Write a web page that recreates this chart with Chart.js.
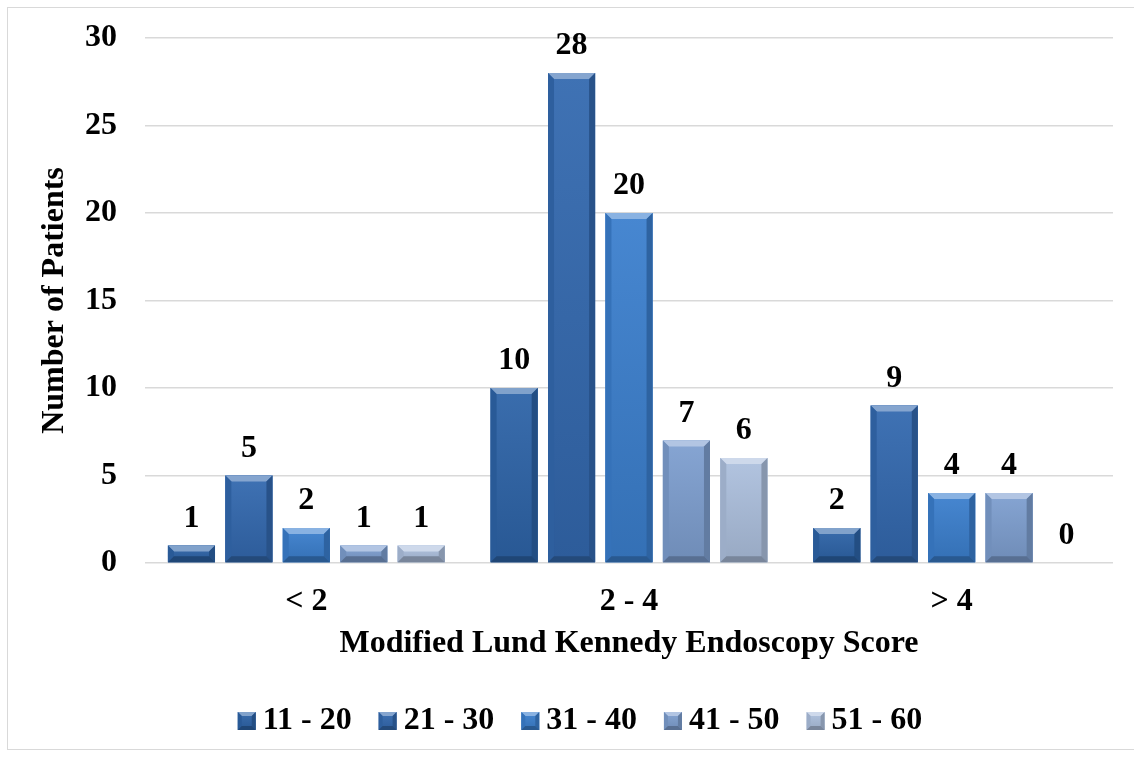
<!DOCTYPE html>
<html>
<head>
<meta charset="utf-8">
<script src="https://cdn.jsdelivr.net/npm/chart.js@4"></script>
<style>
  html, body { margin: 0; padding: 0; background: #fff; }
  #wrap { position: relative; width: 1134px; height: 758px; overflow: hidden; }
  #frame { position: absolute; left: 7px; top: 7px; width: 1200px; height: 743px; border: 1px solid #d9d9d9; box-sizing: border-box; }
  canvas { position: absolute; left: 0; top: 0; }
</style>
</head>
<body>
<div id="wrap">
  <div id="frame"></div>
  <canvas id="c" width="1134" height="758"></canvas>
</div>
<script>
const categories = ['< 2', '2 - 4', '> 4'];
const ageGroups = ['11 - 20', '21 - 30', '31 - 40', '41 - 50', '51 - 60'];
const age11to20 = [1, 10, 2];
const age21to30 = [5, 28, 9];
const age31to40 = [2, 20, 4];
const age41to50 = [1, 7, 4];
const age51to60 = [1, 6, 0];
const yTicks = [0, 5, 10, 15, 20, 25, 30];

const seriesValues = [age11to20, age21to30, age31to40, age41to50, age51to60];
const seriesColors = ['#2D64A8', '#3369AF', '#3B7FCE', '#7E9FD0', '#ADC0DE'];

const FONT = '"Liberation Serif", "Times New Roman", serif';
const SIZE = 32;

function shade(hex, amt) {
  const n = parseInt(hex.slice(1), 16);
  let r = (n >> 16) & 255, g = (n >> 8) & 255, b = n & 255;
  const f = v => Math.max(0, Math.min(255, Math.round(amt >= 0 ? v + (255 - v) * amt : v * (1 + amt))));
  return `rgb(${f(r)},${f(g)},${f(b)})`;
}

// Draws a bevelled block: lit top face, shaded sides and bottom
function bevelBlock(ctx, l, t, w, h, base, bevel) {
  const r = l + w, bt = t + h;
  const bv = Math.min(bevel, h / 2, w / 2);
  const g = ctx.createLinearGradient(0, t, 0, bt);
  g.addColorStop(0, shade(base, 0.06));
  g.addColorStop(1, shade(base, -0.12));
  ctx.fillStyle = g;
  ctx.fillRect(l, t, w, h);
  ctx.beginPath();
  ctx.moveTo(l, t); ctx.lineTo(r, t); ctx.lineTo(r - bv, t + bv); ctx.lineTo(l + bv, t + bv); ctx.closePath();
  ctx.fillStyle = shade(base, 0.4);
  ctx.fill();
  ctx.beginPath();
  ctx.moveTo(l, t); ctx.lineTo(l + bv, t + bv); ctx.lineTo(l + bv, bt - bv); ctx.lineTo(l, bt); ctx.closePath();
  ctx.fillStyle = shade(base, -0.1);
  ctx.fill();
  ctx.beginPath();
  ctx.moveTo(r, t); ctx.lineTo(r - bv, t + bv); ctx.lineTo(r - bv, bt - bv); ctx.lineTo(r, bt); ctx.closePath();
  ctx.fillStyle = shade(base, -0.22);
  ctx.fill();
  ctx.beginPath();
  ctx.moveTo(l, bt); ctx.lineTo(l + bv, bt - bv); ctx.lineTo(r - bv, bt - bv); ctx.lineTo(r, bt); ctx.closePath();
  ctx.fillStyle = shade(base, -0.3);
  ctx.fill();
}

// Bevelled look on every bar, drawn over the library's own bar rectangles
const bevelPlugin = {
  id: 'bevel',
  afterDatasetsDraw(chart) {
    const ctx = chart.ctx;
    chart.data.datasets.forEach((ds, di) => {
      const meta = chart.getDatasetMeta(di);
      meta.data.forEach((bar, i) => {
        if (!ds.data[i]) return;
        const { x, y, width, base } = bar.getProps(['x', 'y', 'width', 'base'], true);
        ctx.save();
        bevelBlock(ctx, x - width / 2, y, width, base - y, seriesColors[di], 6);
        ctx.restore();
      });
    });
  }
};

// Value labels above each bar
const valueLabels = {
  id: 'valueLabels',
  afterDatasetsDraw(chart) {
    const ctx = chart.ctx;
    ctx.save();
    ctx.font = 'bold ' + SIZE + 'px ' + FONT;
    ctx.fillStyle = '#000';
    ctx.textAlign = 'center';
    ctx.textBaseline = 'alphabetic';
    chart.data.datasets.forEach((ds, di) => {
      const meta = chart.getDatasetMeta(di);
      meta.data.forEach((bar, i) => {
        ctx.fillText(String(ds.data[i]), bar.x, bar.y - 19);
      });
    });
    ctx.restore();
  }
};

// Legend row: nudge it right and paint bevelled swatches next to the text
const legendDecor = {
  id: 'legendDecor',
  afterLayout(chart) {
    if (chart.legend) { chart.legend.left += 15; chart.legend.right += 15; }
  },
  afterDraw(chart) {
    const lg = chart.legend;
    if (!lg || !lg.legendHitBoxes) return;
    const ctx = chart.ctx;
    ctx.save();
    lg.legendHitBoxes.forEach((hb, i) => {
      const textX = hb.left + 18 + SIZE / 2;
      const cy = hb.top + hb.height / 2;
      bevelBlock(ctx, textX - 25, cy - 9, 18, 18, seriesColors[i], 4);
    });
    ctx.restore();
  }
};

new Chart(document.getElementById('c'), {
  type: 'bar',
  data: {
    labels: categories,
    datasets: ageGroups.map((name, i) => ({
      label: name,
      data: seriesValues[i],
      backgroundColor: seriesColors[i],
      borderWidth: 0,
      categoryPercentage: 0.89,
      barPercentage: 0.82
    }))
  },
  options: {
    responsive: false,
    animation: false,
    layout: { padding: { left: 8, right: 21, top: 38, bottom: 11 } },
    plugins: {
      legend: {
        position: 'bottom',
        labels: {
          font: { family: FONT, size: SIZE, weight: 'bold' },
          color: '#000',
          boxWidth: 18,
          boxHeight: 18,
          padding: 18,
          generateLabels(chart) {
            return chart.data.datasets.map((ds, i) => ({
              text: ds.label,
              fillStyle: 'rgba(0,0,0,0)',
              strokeStyle: 'rgba(0,0,0,0)',
              lineWidth: 0,
              hidden: false,
              datasetIndex: i,
              fontColor: '#000'
            }));
          }
        }
      },
      tooltip: { enabled: false }
    },
    scales: {
      x: {
        afterFit(scale) { scale.height = 124; },
        grid: { display: false, drawTicks: false },
        border: { display: false },
        ticks: { font: { family: FONT, size: SIZE, weight: 'bold' }, color: '#000', padding: 20 },
        title: {
          display: true,
          text: 'Modified Lund Kennedy Endoscopy Score',
          font: { family: FONT, size: SIZE, weight: 'bold' },
          color: '#000',
          padding: { top: 3, bottom: 24 }
        }
      },
      y: {
        min: 0,
        max: 30,
        afterBuildTicks(scale) { scale.ticks = yTicks.map(v => ({ value: v })); },
        afterFit(scale) { scale.width = 137; scale.paddingTop = 0; scale.paddingBottom = 0; },
        grid: { color: '#d9d9d9', lineWidth: 1.5, drawTicks: false },
        border: { display: false },
        ticks: { font: { family: FONT, size: SIZE, weight: 'bold' }, color: '#000', padding: 28 },
        title: {
          display: true,
          text: 'Number of Patients',
          font: { family: FONT, size: SIZE, weight: 'bold' },
          color: '#000',
          padding: { top: 28, bottom: 11 }
        }
      }
    }
  },
  plugins: [bevelPlugin, valueLabels, legendDecor]
});
</script>
</body>
</html>
